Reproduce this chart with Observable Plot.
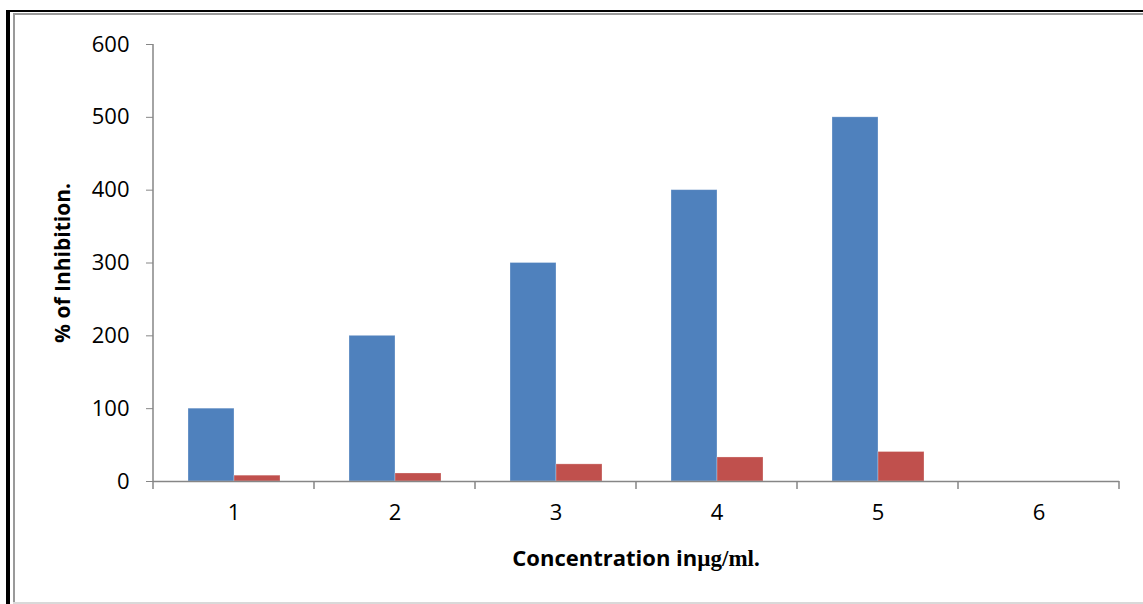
<!DOCTYPE html>
<html>
<head>
<meta charset="utf-8">
<script src="https://cdn.jsdelivr.net/npm/d3@7"></script>
<script src="https://cdn.jsdelivr.net/npm/@observablehq/plot@0.6"></script>
<style>
  html, body { margin: 0; padding: 0; background: #fff; }
  #wrap { position: relative; width: 1143px; height: 604px; overflow: hidden; }
  .b { position: absolute; }
  #xlabel { position: absolute; top: 542px; left: 152px; width: 968px; text-align: center; font-weight: bold; font-size: 22px; font-family: "Open Sans", sans-serif; white-space: nowrap; }
  #xlabel .unit { font-family: "Liberation Serif", "DejaVu Serif", serif; font-size: 23px; }
  #chart { position: absolute; left: 0; top: 0; }
</style>
</head>
<body>
<div id="wrap">
  <div class="b" style="left:6px;top:10px;width:4px;height:594px;background:#000"></div>
  <div class="b" style="left:6px;top:10px;width:1137px;height:2px;background:#000"></div>
  <div class="b" style="left:13px;top:13px;width:2px;height:591px;background:#9a9a9a"></div>
  <div class="b" style="left:13px;top:13px;width:1130px;height:2px;background:#9a9a9a"></div>
  <div class="b" style="left:13px;top:602px;width:1130px;height:2px;background:#d9d9d9"></div>
  <div id="chart"></div>
  <div id="xlabel">Concentration in<span class="unit">µg/ml.</span></div>
</div>
<script>
const categories = ["1", "2", "3", "4", "5", "6"];
const seriesNames = ["Series1", "Series2"];
const series1 = [100, 200, 300, 400, 500, null];
const series2 = [8, 11, 23.5, 33, 40.5, null];
const yTicks = [0, 100, 200, 300, 400, 500, 600];
const colors = ["#4F81BD", "#C0504D"];

const data = categories.flatMap((c, i) => [
  {cat: c, series: seriesNames[0], value: series1[i]},
  {cat: c, series: seriesNames[1], value: series2[i]}
]);

const axisColor = "#868686";

const plot = Plot.plot({
  width: 1143,
  height: 604,
  marginLeft: 152,
  marginRight: 23,
  marginTop: 44,
  marginBottom: 123,
  style: {fontFamily: "Open Sans, sans-serif", fontSize: "22px", color: "#000", background: "transparent", overflow: "visible"},
  fx: {domain: categories, paddingInner: 0, paddingOuter: 0, label: null},
  x: {domain: seriesNames, paddingInner: 0, paddingOuter: 0.75, axis: null},
  y: {domain: [0, 600], label: null},
  color: {domain: seriesNames, range: colors},
  marks: [
    Plot.barY(data, {fx: "cat", x: "series", y: "value", fill: "series", stroke: "#ffffff", strokeOpacity: 0.35, strokeWidth: 0.8}),
    Plot.ruleY([0], {stroke: axisColor, strokeWidth: 1.5}),
    Plot.axisY({ticks: yTicks, tickSize: 7, tickPadding: 17, stroke: axisColor, fill: "#000", fontSize: 22,
      label: "% of Inhibition.", labelAnchor: "center", labelOffset: 98, labelArrow: "none"}),
    Plot.axisFx({anchor: "bottom", tickSize: 0, tickPadding: 23, fill: "#000", fontSize: 22, label: null})
  ]
});

document.getElementById("chart").appendChild(plot);

// axis line and category-boundary ticks from the library's scales
const svg = d3.select(plot);
const fx = plot.scale("fx");
const y = plot.scale("y");
const band = fx.bandwidth;
const starts = categories.map(c => fx.apply(c));
const bounds = starts.concat([starts[starts.length - 1] + band]);
const y0 = y.apply(0), yTop = y.apply(600);
const g = svg.append("g").attr("stroke", axisColor).attr("stroke-width", 1.5);
g.append("line").attr("x1", bounds[0]).attr("x2", bounds[0]).attr("y1", yTop).attr("y2", y0);
g.selectAll("line.t").data(bounds).join("line").attr("class", "t")
  .attr("x1", d => d).attr("x2", d => d).attr("y1", y0).attr("y2", y0 + 8);
// bold y label
svg.selectAll("[aria-label='y-axis label'] text, [aria-label='y-axis label']").attr("font-weight", "bold").attr("font-size", 21);
</script>
</body>
</html>
